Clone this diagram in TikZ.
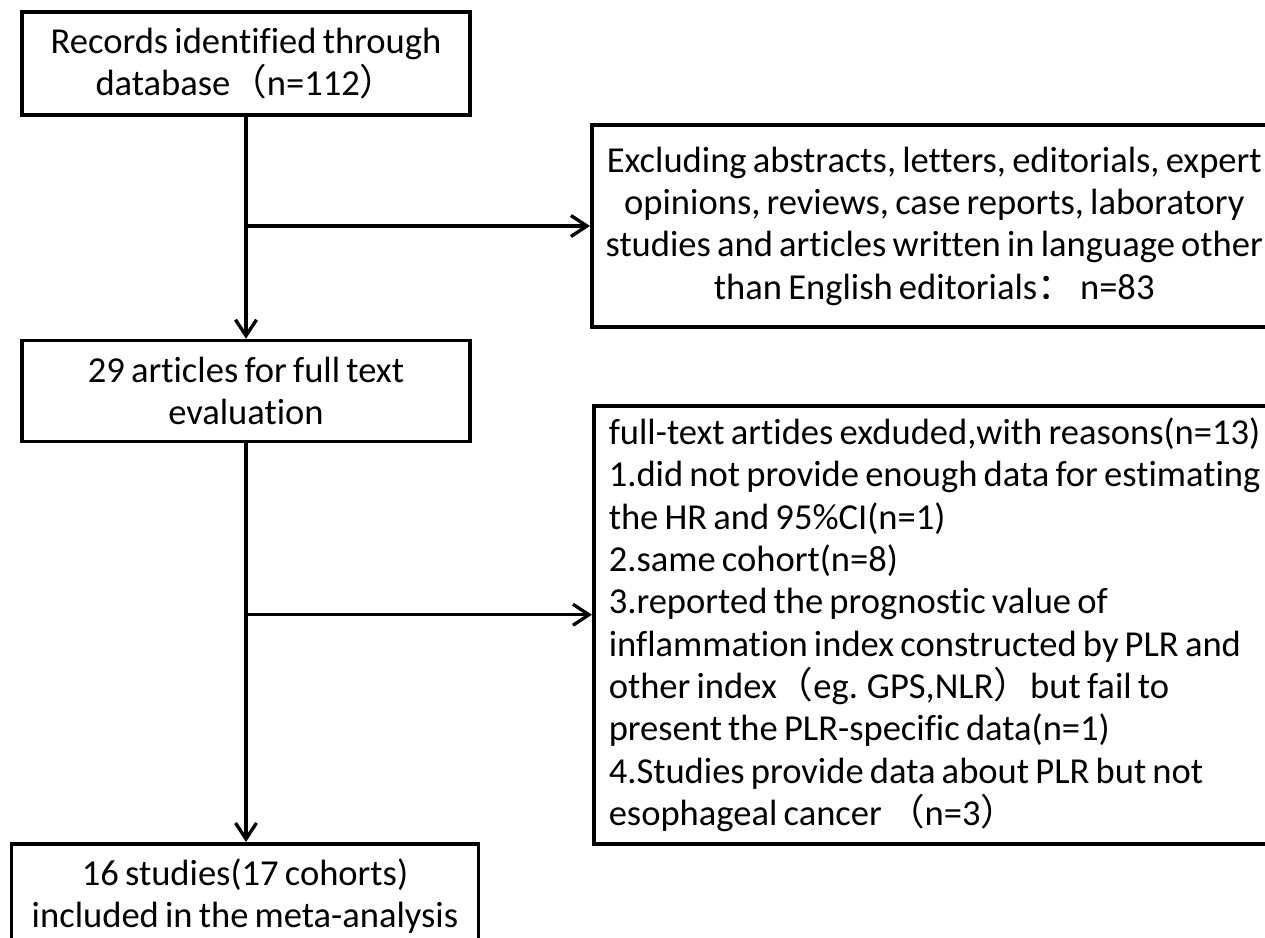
\documentclass[tikz,border=0pt]{standalone}
\usepackage{fontspec}
\setmainfont{Carlito}[Ligatures=CommonOff, WordSpace=0.75]
\newfontfamily\cjk{Noto Sans CJK SC}
\usepackage{tikz}
\usetikzlibrary{arrows.meta,positioning}

\begin{document}
\begin{tikzpicture}[
    box/.style={rectangle, draw, line width=2pt, inner sep=0pt, align=center,
        font=\fontsize{20.8}{24.1}\selectfont},
    flow/.style={-{Straight Barb[length=3.2mm, width=4.2mm]}, line width=1.9pt},
    node distance=4.44cm
]
\useasboundingbox (0,0) rectangle (25.3,-18.76);
\node[box, minimum width=8.96cm, minimum height=2.06cm] (rec) at (4.92,-1.27)
    {Records identified through\\database{\cjk（}n=112{\cjk）}};
\node[box, minimum width=8.96cm, minimum height=2.02cm, below=of rec] (full)
    {29 articles for full text\\evaluation};
\node[box, minimum width=13.7cm, minimum height=4.04cm, anchor=west] (excl) at (11.8,-4.52)
    {Excluding abstracts, letters, editorials, expert\\opinions, reviews, case reports, laboratory\\studies and articles written in language other\\than English editorials{\cjk：} n=83};
\node[box, align=flush left, text width=14cm, inner xsep=0.3cm, minimum height=8.76cm,
    anchor=north west] (reason) at (11.84,-8.08)
    {full-text artides exduded,with reasons(n=13)\\
     1.did not provide enough data for estimating\\
     the HR and 95\%CI(n=1)\\
     2.same cohort(n=8)\\
     3.reported the prognostic value of\\
     inflammation index constructed by PLR and\\
     other index{\cjk（}eg. GPS,NLR{\cjk）}but fail to\\
     present the PLR-specific data(n=1)\\
     4.Studies provide data about PLR but not\\
     esophageal cancer {\cjk（}n=3{\cjk）}};
\node[box, minimum width=9.34cm, inner ysep=0.3cm, text depth=3cm, anchor=north] (incl) at (4.9,-16.84)
    {16 studies(17 cohorts)\\included in the meta-analysis};

\draw[flow] (rec) -- (full);
\draw[flow] (rec.south |- excl.west) -- (excl.west);
\draw[flow] (full) -- (full.south |- incl.north);
\draw[flow] (full.south |- reason.west) ++(0,0.2) -- ([yshift=0.2cm]reason.west);
\end{tikzpicture}
\end{document}
